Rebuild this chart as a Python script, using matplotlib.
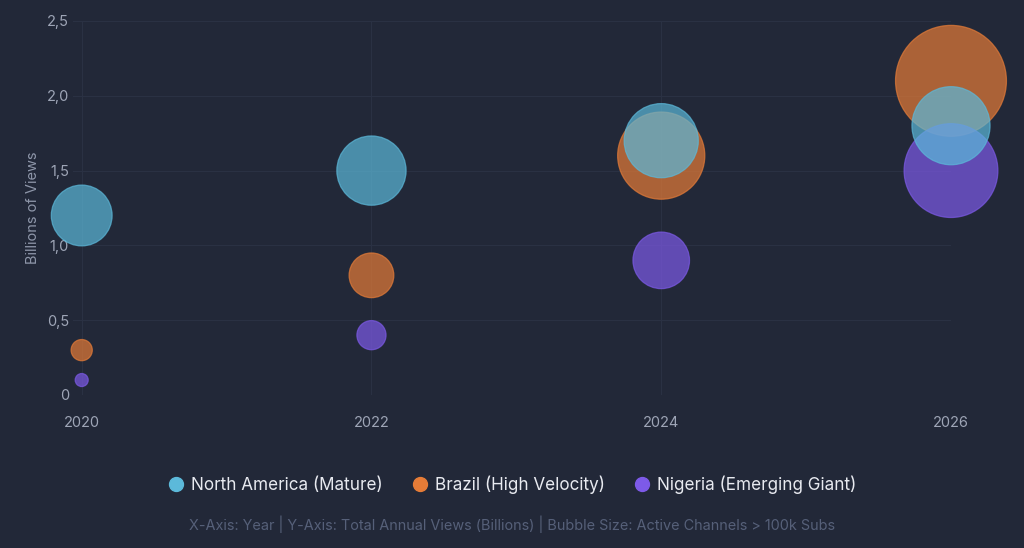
#!/usr/bin/env python3
"""Bubble chart: annual views vs year, bubble size = active channels."""

import matplotlib
matplotlib.use("Agg")
import matplotlib.pyplot as plt
from matplotlib.lines import Line2D
from matplotlib.ticker import FuncFormatter

years = [2020, 2022, 2024, 2026]

# total annual views (billions)
na_views = [1.2, 1.5, 1.7, 1.8]
brazil_views = [0.3, 0.8, 1.6, 2.1]
nigeria_views = [0.1, 0.4, 0.9, 1.5]

# active channels > 100k subs (thousands)
na_channels = [37, 48, 55, 61]
brazil_channels = [4.5, 20, 76, 123]
nigeria_channels = [1.7, 8.5, 32, 88]

series_names = ["North America (Mature)", "Brazil (High Velocity)", "Nigeria (Emerging Giant)"]
colors = ["#5cb9da", "#e67c37", "#7d5ae8"]

BG = "#222838"
GRID = "#2a3143"
TICK = "#9ea5b6"


def bubble_size(channels):
    # area proportional to channel count
    return [c * 51.84 for c in channels]


def main():
    plt.rcParams["font.family"] = ["Inter", "DejaVu Sans"]
    fig = plt.figure(figsize=(10.24, 5.48), dpi=100, facecolor=BG)
    ax = fig.add_axes([0.0713, 0.2792, 0.8574, 0.6825])
    ax.set_facecolor(BG)

    data = [(na_views, na_channels), (brazil_views, brazil_channels),
            (nigeria_views, nigeria_channels)]
    zorders = [5, 3, 4]
    for (views, ch), col, z in zip(data, colors, zorders):
        ax.scatter(years, views, s=bubble_size(ch), facecolor=col, alpha=0.7,
                   edgecolor=col, linewidth=0.9, zorder=z, clip_on=False)

    ax.set_xlim(2019.94, 2026)
    ax.set_ylim(0, 2.5)
    ax.set_xticks(years)
    ax.set_yticks([0, 0.5, 1.0, 1.5, 2.0, 2.5])
    ax.yaxis.set_major_formatter(FuncFormatter(
        lambda v, p: "0" if v == 0 else f"{v:.1f}".replace(".", ",")))
    ax.grid(True, color=GRID, linewidth=0.8, zorder=0)
    ax.set_axisbelow(True)
    for sp in ax.spines.values():
        sp.set_visible(False)
    ax.tick_params(axis="both", length=0, colors=TICK, labelsize=10.5)
    ax.tick_params(axis="x", pad=15)
    ax.tick_params(axis="y", pad=3)
    ax.set_ylabel("Billions of Views", color="#8e96a9", fontsize=10.5, labelpad=4.5)

    handles = [Line2D([], [], marker="o", linestyle="none", markersize=10,
                      markerfacecolor=c, markeredgecolor=c) for c in colors]
    leg = fig.legend(handles, series_names, loc="center", ncol=3,
                     bbox_to_anchor=(0.5, 0.115), frameon=False, fontsize=12.3,
                     handletextpad=0.35, columnspacing=1.7, handlelength=1.0)
    for t in leg.get_texts():
        t.set_color("#e8eaf0")

    fig.text(0.5, 0.044,
             "X-Axis: Year | Y-Axis: Total Annual Views (Billions) | Bubble Size: Active Channels > 100k Subs",
             ha="center", va="center", color="#566079", fontsize=10.4)

    fig.savefig("out.png", dpi=100, facecolor=BG)


if __name__ == "__main__":
    main()
